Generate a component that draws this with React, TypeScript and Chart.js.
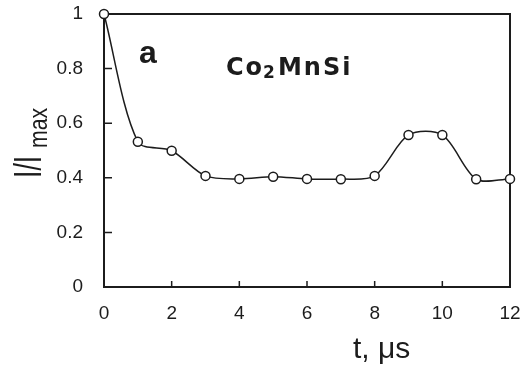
import { useEffect, useRef } from 'react';
import { Chart, registerables } from 'chart.js';

Chart.register(...registerables);

const timeUs = [0, 1, 2, 3, 4, 5, 6, 7, 8, 9, 10, 11, 12];
const intensity = [1.0, 0.532, 0.499, 0.407, 0.396, 0.404, 0.396, 0.395, 0.407, 0.557, 0.557, 0.395, 0.396];
const xTicks = [0, 2, 4, 6, 8, 10, 12];
const yTicks = [0, 0.2, 0.4, 0.6, 0.8, 1];

const INK = '#1c1c1c';
const SANS = '"Liberation Sans", Arial, sans-serif';

export default function App() {
  const ref = useRef<HTMLCanvasElement>(null);

  useEffect(() => {
    if (!ref.current) return;

    const framePlugin = {
      id: 'frame',
      beforeDatasetsDraw(chart: any) {
        const { ctx, chartArea: a, scales } = chart;
        ctx.save();
        ctx.strokeStyle = INK;
        ctx.lineWidth = 2;
        ctx.strokeRect(a.left, a.top, a.right - a.left, a.bottom - a.top);
        ctx.lineWidth = 1.5;
        ctx.beginPath();
        for (const v of yTicks) {
          const y = scales.y.getPixelForValue(v);
          ctx.moveTo(a.left, y);
          ctx.lineTo(a.left + 8, y);
        }
        for (const v of xTicks) {
          const x = scales.x.getPixelForValue(v);
          ctx.moveTo(x, a.bottom);
          ctx.lineTo(x, a.bottom - 6);
        }
        ctx.stroke();
        ctx.restore();
      },
    };

    const textPlugin = {
      id: 'texts',
      afterDraw(chart: any) {
        const { ctx } = chart;
        ctx.save();
        ctx.fillStyle = INK;
        ctx.textBaseline = 'alphabetic';
        ctx.textAlign = 'left';

        // panel letter
        ctx.font = `bold 32px ${SANS}`;
        ctx.fillText('a', 139, 63);

        // compound
        let x = 226;
        const big = 'bold 24px "DejaVu Sans", sans-serif';
        const small = 'bold 17px "DejaVu Sans", sans-serif';
        (ctx as any).letterSpacing = '2px';
        ctx.font = big;
        ctx.fillText('Co', x, 75);
        x += ctx.measureText('Co').width;
        ctx.font = small;
        ctx.fillText('2', x - 1, 78);
        x += ctx.measureText('2').width;
        ctx.font = big;
        ctx.fillText('MnSi', x, 75);
        (ctx as any).letterSpacing = '0px';

        // x axis title
        ctx.font = `30px ${SANS}`;
        ctx.fillText('t, \u03BCs', 353, 358);

        // y axis title (rotated)
        ctx.save();
        ctx.translate(41, 178);
        ctx.rotate(-Math.PI / 2);
        ctx.scale(0.7, 1);
        ctx.font = `38px ${SANS}`;
        ctx.fillText('I/I', 0, 0);
        ctx.restore();
        ctx.save();
        ctx.translate(47, 148);
        ctx.rotate(-Math.PI / 2);
        ctx.scale(0.85, 1);
        ctx.font = `25px ${SANS}`;
        ctx.fillText('max', 0, 0);
        ctx.restore();
        ctx.restore();
      },
    };

    const zeroPad = (s: any) => {
      s.paddingTop = 0;
      s.paddingBottom = 0;
      s.paddingLeft = 0;
      s.paddingRight = 0;
    };

    const chart = new Chart(ref.current, {
      type: 'line',
      data: {
        datasets: [
          {
            data: timeUs.map((t, i) => ({ x: t, y: intensity[i] })),
            borderColor: INK,
            borderWidth: 1.5,
            tension: 0.3,
            pointRadius: 4.5,
            pointBorderWidth: 1.5,
            pointBackgroundColor: '#ffffff',
            pointBorderColor: INK,
            clip: false as any,
          },
        ],
      },
      options: {
        animation: false,
        responsive: false,
        devicePixelRatio: 1,
        layout: { padding: { left: 0, right: 11, top: 14, bottom: 0 } },
        plugins: { legend: { display: false }, tooltip: { enabled: false } },
        scales: {
          x: {
            type: 'linear',
            min: 0,
            max: 12,
            afterBuildTicks: (s: any) => {
              s.ticks = xTicks.map((v) => ({ value: v }));
            },
            afterFit: (s: any) => {
              s.height = 83;
              zeroPad(s);
            },
            grid: { display: false, drawTicks: false },
            border: { display: false },
            ticks: {
              padding: 15,
              color: INK,
              font: { family: SANS, size: 19 },
              maxRotation: 0,
              callback: (v: any) => String(v),
            },
          },
          y: {
            type: 'linear',
            min: 0,
            max: 1,
            afterBuildTicks: (s: any) => {
              s.ticks = yTicks.map((v) => ({ value: v }));
            },
            afterFit: (s: any) => {
              s.width = 104;
              zeroPad(s);
            },
            grid: { display: false, drawTicks: false },
            border: { display: false },
            ticks: {
              padding: 21,
              color: INK,
              font: { family: SANS, size: 19 },
              callback: (v: any) => String(Math.round(v * 10) / 10),
            },
          },
        },
      },
      plugins: [framePlugin, textPlugin],
    });

    return () => chart.destroy();
  }, []);

  return (
    <div style={{ position: 'absolute', left: 0, top: 0, width: 521, height: 370, background: '#fff' }}>
      <canvas ref={ref} width={521} height={370} style={{ display: 'block' }} />
    </div>
  );
}
